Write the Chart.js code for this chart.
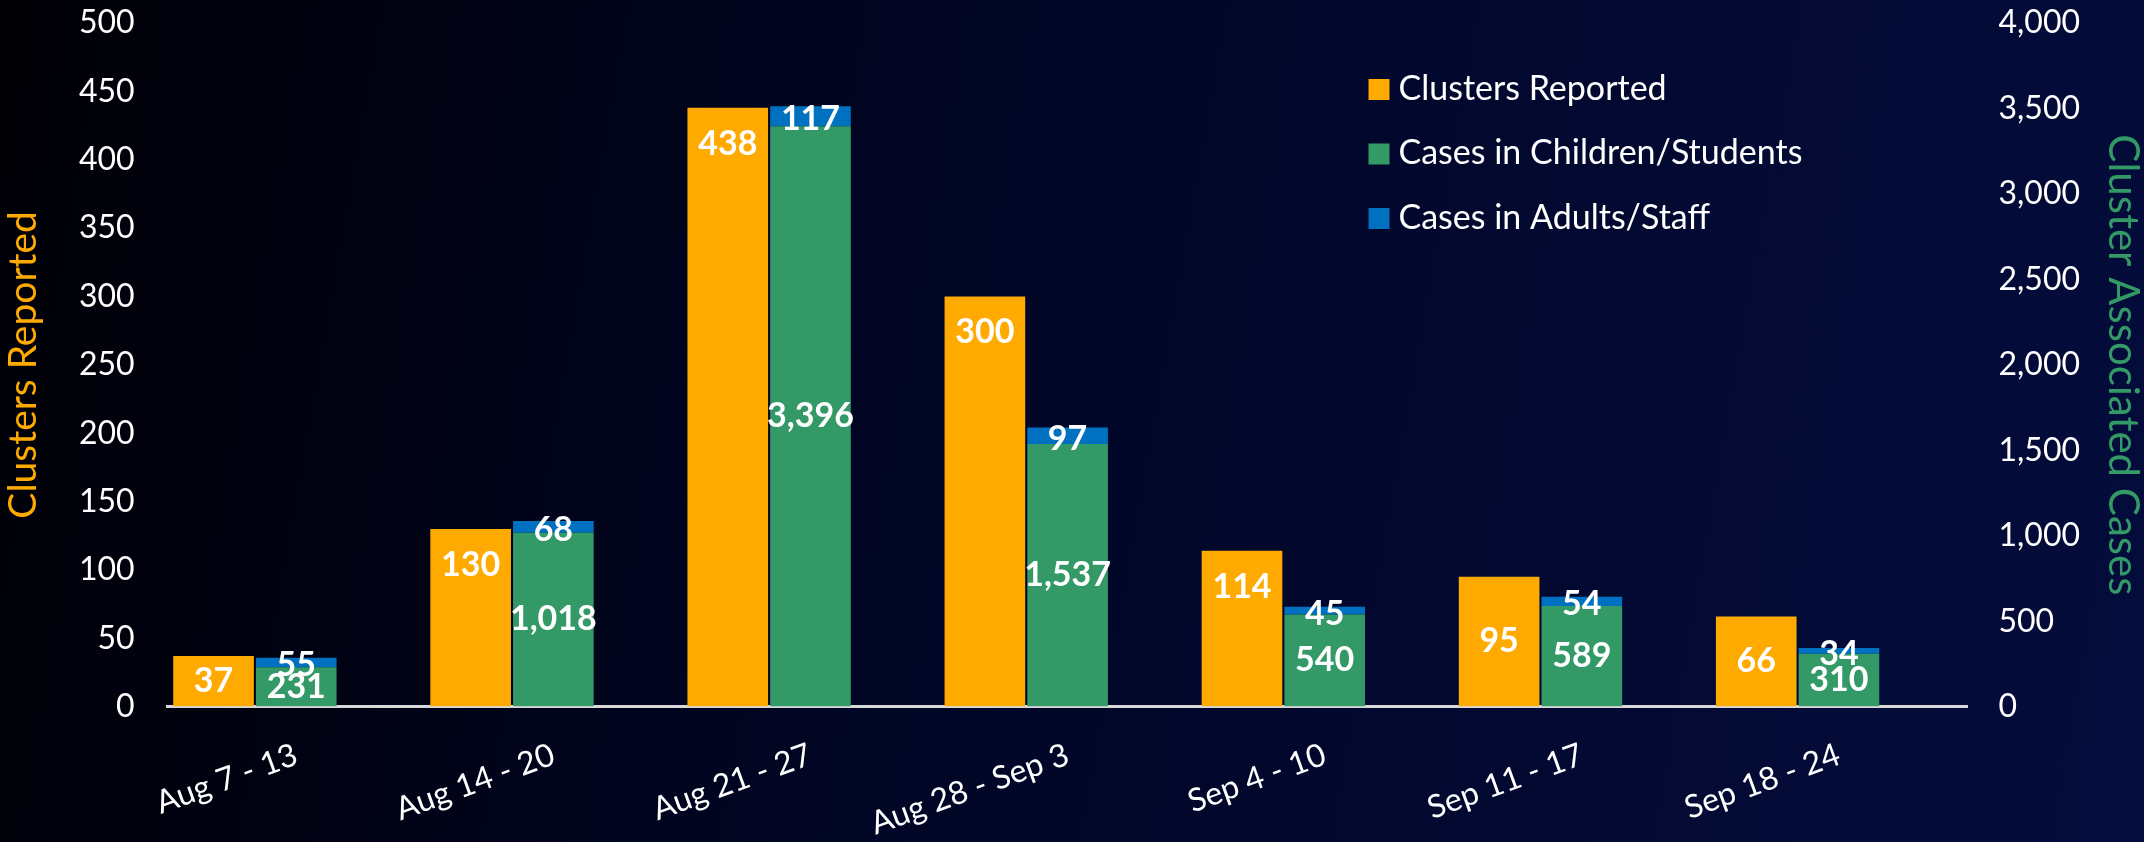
<!DOCTYPE html>
<html>
<head>
<meta charset="utf-8">
<script src="https://cdn.jsdelivr.net/npm/chart.js@4.4.0/dist/chart.umd.min.js"></script>
<style>
  html, body { margin: 0; padding: 0; overflow: hidden; }
  body { background: linear-gradient(100deg, #000005 0%, #010626 45%, #040c3c 100%); }
  #wrap { width: 2144px; height: 842px; position: relative; }
</style>
</head>
<body>
<div id="wrap"><canvas id="canvas"></canvas></div>
<script>
var weeks = ["Aug 7 - 13", "Aug 14 - 20", "Aug 21 - 27", "Aug 28 - Sep 3", "Sep 4 - 10", "Sep 11 - 17", "Sep 18 - 24"];
var clustersReported = [37, 130, 438, 300, 114, 95, 66];
var casesChildren = [231, 1018, 3396, 1537, 540, 589, 310];
var casesAdults = [55, 68, 117, 97, 45, 54, 34];

var ORANGE = '#FFAA00', GREEN = '#339966', BLUE = '#0070C0';
var FONT = 'Lato, "Open Sans", sans-serif';

// white value labels on the bars
var barLabels = {
  id: 'barLabels',
  afterDatasetsDraw: function (chart) {
    var ctx = chart.ctx;
    ctx.save();
    ctx.font = 'bold 34px ' + FONT;
    ctx.fillStyle = '#ffffff';
    ctx.textAlign = 'center';
    ctx.textBaseline = 'middle';
    chart.data.datasets.forEach(function (ds, i) {
      if (!ds.labelPos) return;
      var meta = chart.getDatasetMeta(i);
      meta.data.forEach(function (el, j) {
        var p = el.getProps(['x', 'y', 'base'], true);
        var v = ds.data[j];
        var y = (p.y + p.base) / 2;
        if (ds.labelPos === 'end' && v >= 100) y = p.y + 36;
        if (ds.labelPos === 'top') y = (p.y + p.base) / 2 + 3;
        ctx.fillText(v.toLocaleString('en-US'), p.x, y);
      });
    });
    ctx.restore();
  }
};

// legend drawn inside the plot, upper right
var boxLegend = {
  id: 'boxLegend',
  afterDraw: function (chart) {
    var ctx = chart.ctx, area = chart.chartArea;
    var x = area.right - 599, y = area.top + 66;
    ctx.save();
    ctx.font = '34px ' + FONT;
    ctx.textBaseline = 'middle';
    ctx.textAlign = 'left';
    chart.data.datasets.forEach(function (ds) {
      if (!ds.label) return;
      ctx.fillStyle = ds.backgroundColor;
      ctx.fillRect(x, y - 10, 21, 21);
      ctx.fillStyle = '#ffffff';
      ctx.fillText(ds.label, x + 30, y);
      y += 64.5;
    });
    ctx.restore();
  }
};

// invisible tick marks keep the value labels away from the plot
var hiddenTicks = { display: true, drawOnChartArea: false, drawTicks: true, color: 'transparent' };

var ctx = document.getElementById("canvas").getContext("2d");
var chart = new Chart(ctx, {
  type: 'bar',
  data: {
    labels: weeks,
    datasets: [{
      label: 'Clusters Reported',
      data: clustersReported,
      backgroundColor: ORANGE,
      yAxisID: 'y',
      stack: 'clusters',
      labelPos: 'end'
    }, {
      label: 'Cases in Children/Students',
      data: casesChildren,
      backgroundColor: GREEN,
      yAxisID: 'y1',
      stack: 'cases',
      labelPos: 'center'
    }, {
      label: 'Cases in Adults/Staff',
      data: casesAdults,
      backgroundColor: BLUE,
      yAxisID: 'y1',
      stack: 'cases',
      labelPos: 'top'
    }, {
      // empty slot so the pair of bars sits left of the tick, as in the original
      label: '',
      data: [],
      yAxisID: 'y',
      stack: 'spacer'
    }]
  },
  options: {
    responsive: true,
    maintainAspectRatio: false,
    animation: false,
    locale: 'en-US',
    categoryPercentage: 0.965,
    barPercentage: 0.975,
    layout: { padding: { left: 0, right: 0, top: 23, bottom: -30 } },
    plugins: {
      legend: { display: false },
      tooltip: { enabled: false }
    },
    scales: {
      x: {
        grid: { display: false, drawTicks: false },
        border: { display: true, color: '#d9d9d9', width: 3 },
        ticks: {
          color: '#ffffff',
          font: { family: FONT, size: 32 },
          minRotation: 20,
          maxRotation: 20,
          padding: 29,
          autoSkip: false
        }
      },
      y: {
        position: 'left',
        min: 0,
        max: 500,
        grid: Object.assign({ tickLength: 33 }, hiddenTicks),
        border: { display: false },
        ticks: {
          stepSize: 50,
          color: '#ffffff',
          font: { family: FONT, size: 32 },
          padding: 0
        },
        title: {
          display: true,
          text: 'Clusters Reported',
          color: ORANGE,
          font: { family: FONT, size: 39, lineHeight: 1.0 },
          padding: { top: 4, bottom: 36 }
        }
      },
      y1: {
        position: 'right',
        stacked: true,
        min: 0,
        max: 4000,
        grid: Object.assign({ tickLength: 31 }, hiddenTicks),
        border: { display: false },
        ticks: {
          stepSize: 500,
          color: '#ffffff',
          font: { family: FONT, size: 32 },
          padding: 0
        },
        title: {
          display: true,
          text: 'Cluster Associated Cases',
          color: GREEN,
          font: { family: FONT, size: 42, lineHeight: 1.0 },
          padding: { top: 0, bottom: 22 }
        }
      }
    }
  },
  plugins: [barLabels, boxLegend]
});
</script>
</body>
</html>
